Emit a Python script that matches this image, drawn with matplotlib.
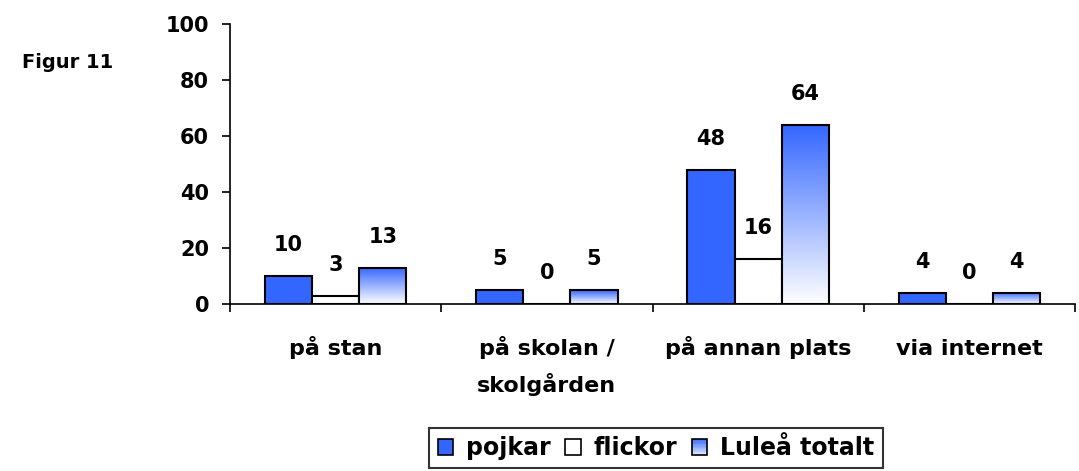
import matplotlib.pyplot as plt
import numpy as np
from matplotlib.patches import Rectangle
from matplotlib.colors import LinearSegmentedColormap
from matplotlib.legend_handler import HandlerBase

plt.rcParams['font.family'] = ['DejaVu Sans']
plt.rcParams['font.weight'] = 'bold'

categories = ['på stan', 'på skolan /\nskolgården', 'på annan plats', 'via internet']
pojkar = [10, 5, 48, 4]
flickor = [3, 0, 16, 0]
totalt = [13, 5, 64, 4]
series_names = ['pojkar', 'flickor', 'Luleå totalt']

blue = '#3366ff'
grad = LinearSegmentedColormap.from_list('g', ['#ffffff', blue])


class GradientHandler(HandlerBase):
    # legend key with a vertical white->blue gradient
    def create_artists(self, legend, orig_handle, xdescent, ydescent, width, height, fontsize, trans):
        arts = []
        n = 12
        for i in range(n):
            r = Rectangle((-xdescent, -ydescent + height * i / n), width, height / n,
                          facecolor=grad(0.15 + 0.85 * (i + 0.5) / n), edgecolor='none', transform=trans)
            arts.append(r)
        arts.append(Rectangle((-xdescent, -ydescent), width, height, facecolor='none',
                              edgecolor='black', linewidth=1.2, transform=trans))
        return arts


fig = plt.figure(figsize=(10.79, 4.71), dpi=100)
ax = fig.add_axes([230/1079, (471-304)/471, 845/1079, 280/471])

x = np.arange(len(categories))
w = 0.223
fs = 15

bars_p = ax.bar(x - w, pojkar, w, color=blue, edgecolor='black', linewidth=1.5)
bars_f = ax.bar(x, flickor, w, color='white', edgecolor='black', linewidth=1.5)
bars_t = ax.bar(x + w, totalt, w, color='none', edgecolor='black', linewidth=1.5, zorder=3)

# gradient fill for total bars
for b in bars_t:
    x0, y0 = b.get_x(), b.get_y()
    h = b.get_height()
    if h <= 0:
        continue
    g = np.linspace(0, 1, 256).reshape(-1, 1)
    ax.imshow(g, cmap=grad, aspect='auto', origin='lower',
              extent=[x0, x0 + b.get_width(), y0, y0 + h], zorder=2)

for bars, vals in [(bars_p, pojkar), (bars_f, flickor), (bars_t, totalt)]:
    for b, v in zip(bars, vals):
        ax.annotate(str(v), (b.get_x() + b.get_width() / 2, v), xytext=(0, 15),
                    textcoords='offset points', ha='center', va='bottom',
                    fontsize=fs, fontweight='bold')

ax.set_xlim(-0.5, len(categories) - 0.5)
ax.set_ylim(0, 100)
ax.set_yticks([0, 20, 40, 60, 80, 100])
ax.tick_params(axis='y', labelsize=fs, length=6, width=1.2, direction='out', pad=9)
ax.set_xticks(np.arange(len(categories) + 1) - 0.5)
ax.set_xticklabels([])
ax.tick_params(axis='x', length=6, width=1.2, direction='out')
# baseline of the last line; push multi-line labels down so the first line lines up
for i, c in enumerate(categories):
    nl = c.count('\n')
    ax.annotate(c, (i, 0), xytext=(0, -37 - 26.6 * nl), textcoords='offset points',
                ha='center', va='baseline', fontsize=16, fontweight='bold', linespacing=1.74)

ax.spines['top'].set_visible(False)
ax.spines['right'].set_visible(False)
ax.spines['left'].set_linewidth(1.2)
ax.spines['bottom'].set_linewidth(1.2)

fig.text(22/1079, 1 - 63/471, 'Figur 11', ha='left', va='center', fontsize=14, fontweight='bold')

handles = [Rectangle((0, 0), 1, 1, facecolor=blue, edgecolor='black', linewidth=1.2),
           Rectangle((0, 0), 1, 1, facecolor='white', edgecolor='black', linewidth=1.2),
           Rectangle((0, 0), 1, 1, facecolor='#aabbff', edgecolor='black', linewidth=1.2)]
leg = fig.legend(handles, series_names, loc='center', bbox_to_anchor=(656/1079, 1 - 448/471),
                 ncol=3, frameon=True, fancybox=False, edgecolor='black',
                 handlelength=0.64, handleheight=0.64, handletextpad=0.55, columnspacing=0.64,
                 borderpad=0.35, borderaxespad=0, prop={'weight': 'bold', 'size': 17},
                 handler_map={handles[2]: GradientHandler()})
leg.get_frame().set_linewidth(1.5)

fig.savefig('out.png', dpi=100)
